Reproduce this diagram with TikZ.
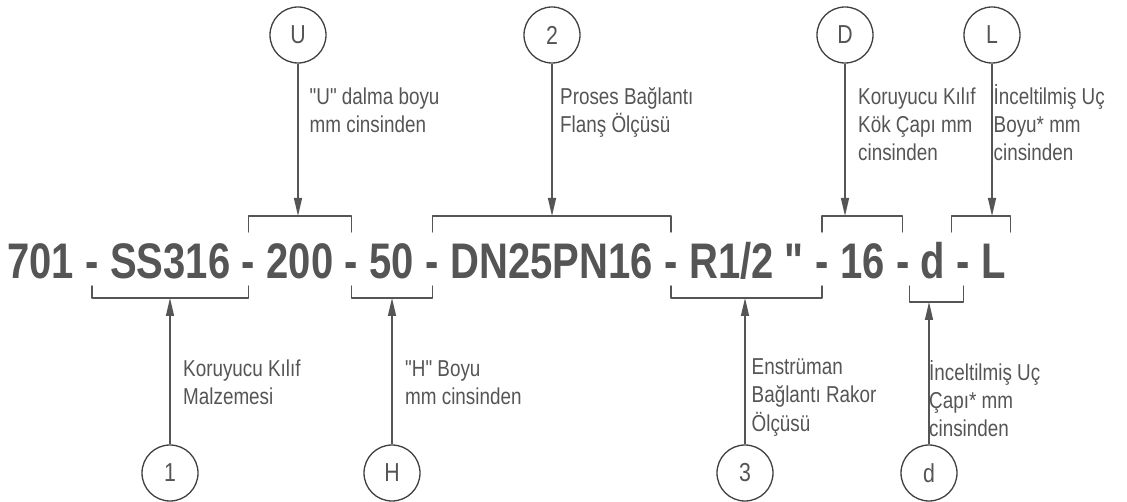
\documentclass[tikz,border=0pt]{standalone}
\usepackage{fontspec}
\newfontfamily\codefamily[FakeStretch=0.8,Ligatures=TeXOff]{Liberation Sans}
\newfontfamily\notefamily[FakeStretch=0.82,Ligatures=TeXOff]{Liberation Sans}
\usetikzlibrary{arrows.meta,positioning}
\definecolor{ink}{RGB}{85,85,85}
\definecolor{ring}{RGB}{64,64,64}

\begin{document}
\begin{tikzpicture}[x=1pt,y=1pt,line cap=round,line join=round,node distance=11.1pt,
  code/.style={inner sep=0pt,text=ink,font=\codefamily\bfseries\fontsize{50}{60}\selectfont},
  note/.style={anchor=base west,align=left,inner sep=0pt,text=ink,font=\notefamily\fontsize{23}{28}\selectfont},
  badge/.style={circle,draw=ring,line width=1.3pt,minimum size=56pt,inner sep=0pt,text=ink,font=\notefamily\fontsize{26}{30}\selectfont},
  bracket/.style={draw=ink,line width=1.4pt},
  pointer/.style={draw=ink,line width=1.4pt,line cap=butt,-{Triangle[length=18pt,width=8pt]}}]
\useasboundingbox (0,0) rectangle (1127,-502);
% code line
\node[code,anchor=base west] (c1) at (7,-278.5) {701};
\node[code,base right=of c1] (h1) {-};
\node[code,base right=of h1] (c2) {SS316};
\node[code,base right=of c2] (h2) {-};
\node[code,base right=of h2] (c3) {200};
\node[code,base right=of c3] (h3) {-};
\node[code,base right=of h3] (c4) {50};
\node[code,base right=of c4] (h4) {-};
\node[code,base right=of h4] (c5) {DN25PN16};
\node[code,base right=of c5] (h5) {-};
\node[code,base right=of h5] (c6) {R1/2 "};
\node[code,base right=of c6] (h6) {-};
\node[code,base right=of h6] (c7) {16};
\node[code,base right=of c7] (h7) {-};
\node[code,base right=of h7] (c8) {d};
\node[code,base right=of c8] (h8) {-};
\node[code,base right=of h8] (c9) {L};
% bracket levels
\coordinate (tt) at (0,-216);
\coordinate (tb) at (0,-232);
\coordinate (bt) at (0,-286);
\coordinate (bb) at (0,-298);
\coordinate (bd) at (0,-302);
\coordinate (lL) at ([xshift=-12pt]h8.center);
\coordinate (rL) at ([xshift=4pt]c9.east);
% upper brackets
\draw[bracket] (h2 |- tb) -- (h2 |- tt) -- (h3 |- tt) -- (h3 |- tb);
\draw[bracket] (h4 |- tb) -- (h4 |- tt) -- (h5 |- tt) -- (h5 |- tb);
\draw[bracket] (h6 |- tb) -- (h6 |- tt) -- (h7 |- tt) -- (h7 |- tb);
\draw[bracket] (lL |- tb) -- (lL |- tt) -- (rL |- tt) -- (rL |- tb);
% lower brackets
\draw[bracket] (h1 |- bt) -- (h1 |- bb) -- (h2 |- bb) -- (h2 |- bt);
\draw[bracket] (h3 |- bt) -- (h3 |- bb) -- (h4 |- bb) -- (h4 |- bt);
\draw[bracket] (h5 |- bt) -- (h5 |- bb) -- (h6 |- bb) -- (h6 |- bt);
\draw[bracket] (h7.east |- bt) -- (h7.east |- bd) -- (h8 |- bd) -- (h8 |- bt);
% badges
\node[badge] (nU) at (298,-35) {U};
\node[badge] (n2) at (552,-35) {2};
\node[badge] (nD) at (845,-35) {D};
\node[badge] (nL) at (992,-35) {L};
\node[badge] (n1) at (170,-473) {1};
\node[badge] (nH) at (392,-473) {H};
\node[badge] (n3) at (745,-473) {3};
\node[badge] (nd) at (929,-473) {d};
\draw[pointer] (nU) -- (nU |- tt);
\draw[pointer] (n2) -- (n2 |- tt);
\draw[pointer] (nD) -- (nD |- tt);
\draw[pointer] (nL) -- (nL |- tt);
\draw[pointer] (n1) -- (n1 |- bb);
\draw[pointer] (nH) -- (nH |- bb);
\draw[pointer] (n3) -- (n3 |- bb);
\draw[pointer] (nd) -- (nd |- bd);
% notes (anchored on the last line)
\node[note] (tU) at (309.5,-133) {"U" dalma boyu\\mm cinsinden};
\node[note] (t2) at (560,-133) {Proses Bağlantı\\Flanş Ölçüsü};
\node[note] (tD) at (858,-161) {Koruyucu Kılıf\\Kök Çapı mm\\cinsinden};
\node[note] (tL) at (993.5,-161) {İnceltilmiş Uç\\Boyu* mm\\cinsinden};
\node[note] (t1) at (183,-404) {Koruyucu Kılıf\\Malzemesi};
\node[note] (tH) at (405,-404) {"H" Boyu\\mm cinsinden};
\node[note] (t3) at (751.5,-431) {Enstrüman\\Bağlantı Rakor\\Ölçüsü};
\node[note] (td) at (929,-436) {İnceltilmiş Uç\\Çapı* mm\\cinsinden};
\end{tikzpicture}
\end{document}
